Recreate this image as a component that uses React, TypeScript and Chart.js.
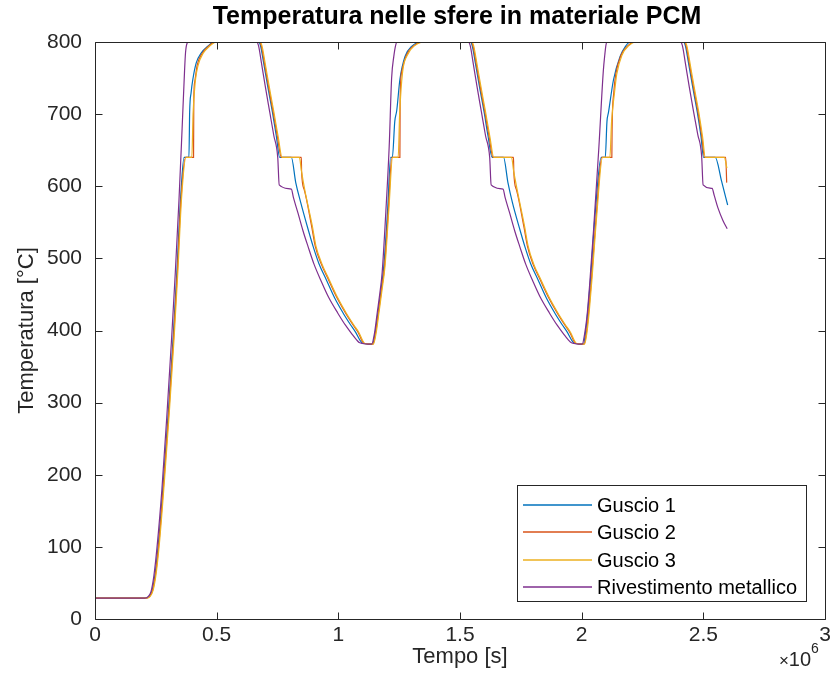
import React, { useEffect, useRef } from "react";
import { Chart, registerables } from "chart.js";
Chart.register(...registerables);

// Time in units of 10^6 s, temperature in °C
const tempoGuscio1 = [0, 0.207, 0.222, 0.235, 0.248, 0.262, 0.282, 0.302, 0.322, 0.337, 0.352, 0.366, 0.386, 0.389, 0.395, 0.402, 0.416, 0.437, 0.463, 0.49, 0.672, 0.68, 0.693, 0.71, 0.729, 0.745, 0.759, 0.807, 0.825, 0.845, 0.876, 0.896, 0.92, 0.951, 0.985, 1.02, 1.05, 1.072, 1.09, 1.101, 1.14, 1.152, 1.163, 1.175, 1.187, 1.203, 1.215, 1.222, 1.232, 1.24, 1.253, 1.274, 1.301, 1.348, 1.542, 1.55, 1.563, 1.58, 1.599, 1.615, 1.632, 1.679, 1.697, 1.715, 1.746, 1.766, 1.79, 1.821, 1.855, 1.89, 1.92, 1.942, 1.96, 1.971, 2.007, 2.016, 2.026, 2.036, 2.055, 2.08, 2.097, 2.104, 2.11, 2.131, 2.158, 2.18, 2.2, 2.418, 2.426, 2.439, 2.456, 2.475, 2.49, 2.501, 2.549, 2.575, 2.6];
const tempGuscio1 = [29, 29, 31, 40, 65, 110, 195, 290, 395, 485, 585, 640, 640, 703, 730, 748, 771, 785, 794, 800, 800, 795, 771, 738, 703, 670, 640, 640, 605, 578, 540, 517, 493, 470, 445, 424, 408, 397, 386, 382, 381, 398, 425, 455, 490, 570, 640, 640, 690, 705, 748, 780, 794, 800, 800, 795, 771, 738, 703, 670, 640, 640, 605, 578, 540, 517, 493, 470, 445, 424, 408, 397, 386, 382, 381, 398, 430, 470, 560, 640, 640, 690, 702, 748, 780, 794, 800, 800, 795, 771, 738, 703, 670, 640, 640, 607, 574];

const tempoGuscio2 = [0, 0.209, 0.224, 0.237, 0.25, 0.264, 0.284, 0.304, 0.324, 0.339, 0.354, 0.372, 0.405, 0.406, 0.41, 0.42, 0.44, 0.466, 0.495, 0.675, 0.683, 0.696, 0.713, 0.732, 0.75, 0.766, 0.848, 0.849, 0.86, 0.89, 0.905, 0.93, 0.96, 0.995, 1.03, 1.06, 1.082, 1.097, 1.106, 1.142, 1.154, 1.165, 1.177, 1.19, 1.206, 1.22, 1.253, 1.254, 1.26, 1.28, 1.31, 1.355, 1.545, 1.553, 1.566, 1.583, 1.602, 1.62, 1.636, 1.72, 1.721, 1.732, 1.762, 1.777, 1.8, 1.83, 1.865, 1.9, 1.93, 1.952, 1.967, 1.976, 2.01, 2.02, 2.03, 2.04, 2.06, 2.083, 2.124, 2.125, 2.132, 2.14, 2.162, 2.19, 2.22, 2.421, 2.429, 2.442, 2.459, 2.478, 2.494, 2.505, 2.592, 2.596];
const tempGuscio2 = [29, 29, 31, 40, 65, 110, 195, 290, 395, 485, 585, 640, 640, 720, 745, 768, 784, 794, 800, 800, 795, 771, 738, 703, 668, 640, 640, 620, 595, 545, 517, 492, 470, 445, 424, 408, 397, 386, 382, 381, 398, 425, 455, 490, 570, 640, 640, 720, 758, 782, 795, 800, 800, 795, 771, 738, 703, 668, 640, 640, 620, 595, 545, 517, 492, 470, 445, 424, 408, 397, 386, 382, 381, 398, 430, 470, 560, 640, 640, 678, 730, 755, 782, 795, 800, 800, 795, 771, 738, 703, 668, 640, 640, 605];

const tempoGuscio3 = [0, 0.21, 0.226, 0.239, 0.252, 0.266, 0.286, 0.306, 0.326, 0.341, 0.356, 0.374, 0.398, 0.403, 0.412, 0.424, 0.444, 0.47, 0.5, 0.677, 0.686, 0.699, 0.716, 0.735, 0.753, 0.769, 0.84, 0.848, 0.862, 0.893, 0.908, 0.933, 0.963, 0.998, 1.033, 1.063, 1.085, 1.1, 1.109, 1.144, 1.156, 1.167, 1.179, 1.192, 1.208, 1.223, 1.246, 1.252, 1.264, 1.284, 1.314, 1.36, 1.547, 1.556, 1.569, 1.586, 1.605, 1.623, 1.639, 1.712, 1.72, 1.735, 1.765, 1.78, 1.803, 1.833, 1.868, 1.903, 1.933, 1.955, 1.97, 1.979, 2.012, 2.022, 2.032, 2.042, 2.062, 2.086, 2.116, 2.123, 2.135, 2.144, 2.166, 2.194, 2.225, 2.423, 2.432, 2.445, 2.462, 2.481, 2.497, 2.508, 2.586, 2.597];
const tempGuscio3 = [29, 29, 31, 40, 65, 110, 195, 290, 395, 485, 585, 640, 640, 700, 745, 768, 784, 794, 800, 800, 795, 771, 738, 703, 668, 640, 640, 622, 595, 545, 517, 492, 470, 445, 424, 408, 397, 386, 382, 381, 398, 425, 455, 490, 570, 640, 640, 700, 758, 782, 795, 800, 800, 795, 771, 738, 703, 668, 640, 640, 622, 595, 545, 517, 492, 470, 445, 424, 408, 397, 386, 382, 381, 398, 430, 470, 560, 640, 640, 690, 730, 755, 782, 795, 800, 800, 795, 771, 738, 703, 668, 640, 640, 625];

const tempoMetallico = [0, 0.205, 0.218, 0.23, 0.242, 0.255, 0.275, 0.295, 0.315, 0.33, 0.345, 0.358, 0.368, 0.372, 0.378, 0.385, 0.663, 0.672, 0.684, 0.7, 0.718, 0.735, 0.751, 0.757, 0.807, 0.815, 0.834, 0.855, 0.875, 0.9, 0.93, 0.96, 0.998, 1.03, 1.054, 1.075, 1.088, 1.137, 1.148, 1.16, 1.17, 1.18, 1.195, 1.209, 1.219, 1.228, 1.236, 1.242, 1.533, 1.542, 1.554, 1.57, 1.588, 1.605, 1.622, 1.628, 1.677, 1.685, 1.704, 1.725, 1.745, 1.77, 1.8, 1.83, 1.868, 1.9, 1.924, 1.945, 1.958, 2.002, 2.012, 2.022, 2.032, 2.049, 2.07, 2.089, 2.095, 2.1, 2.105, 2.405, 2.414, 2.426, 2.442, 2.46, 2.477, 2.493, 2.499, 2.536, 2.545, 2.56, 2.58, 2.598];
const tempMetallico = [29, 29, 31, 38, 60, 100, 180, 280, 390, 480, 580, 680, 760, 785, 798, 800, 800, 795, 771, 738, 703, 670, 640, 602, 596, 585, 563, 538, 517, 492, 468, 446, 424, 407, 396, 387, 383, 381, 395, 425, 450, 480, 563, 655, 750, 780, 796, 800, 800, 795, 771, 738, 703, 670, 640, 602, 596, 585, 563, 538, 517, 492, 468, 446, 424, 407, 396, 387, 383, 381, 395, 420, 460, 540, 650, 760, 782, 796, 800, 800, 795, 771, 738, 703, 672, 642, 602, 597, 587, 570, 553, 541];

const seriesLabels = ["Guscio 1", "Guscio 2", "Guscio 3", "Rivestimento metallico"];
const seriesColors = ["#0072BD", "#D95319", "#EDB120", "#7E2F8E"];
const xTickValues = [0, 0.5, 1, 1.5, 2, 2.5, 3];
const yTickValues = [0, 100, 200, 300, 400, 500, 600, 700, 800];

const chartTitle = "Temperatura nelle sfere in materiale PCM";
const xTitle = "Tempo [s]";
const yTitle = "Temperatura [°C]";

const FONT = "'Liberation Sans', Arial, sans-serif";

function toPoints(t: number[], v: number[]) {
  return t.map((x, i) => ({ x, y: v[i] }));
}

const matlabPlugin = {
  id: "matlabDecor",
  afterDraw(chart: any) {
    const { ctx, chartArea: a, scales } = chart;
    const L = Math.round(a.left) + 0.5;
    const R = Math.round(a.right) + 0.5;
    const T = Math.round(a.top) + 0.5;
    const B = Math.round(a.bottom) + 0.5;
    ctx.save();
    ctx.strokeStyle = "#262626";
    ctx.lineWidth = 1;
    ctx.beginPath();
    ctx.rect(L, T, R - L, B - T);
    ctx.stroke();
    const tl = 7;
    ctx.beginPath();
    for (const v of xTickValues) {
      const px = Math.round(scales.x.getPixelForValue(v)) + 0.5;
      ctx.moveTo(px, B);
      ctx.lineTo(px, B - tl);
      ctx.moveTo(px, T);
      ctx.lineTo(px, T + tl);
    }
    for (const v of yTickValues) {
      const py = Math.round(scales.y.getPixelForValue(v)) + 0.5;
      ctx.moveTo(L, py);
      ctx.lineTo(L + tl, py);
      ctx.moveTo(R, py);
      ctx.lineTo(R - tl, py);
    }
    ctx.stroke();

    // title
    ctx.fillStyle = "#000000";
    ctx.textAlign = "center";
    ctx.textBaseline = "middle";
    ctx.font = `bold 25px ${FONT}`;
    ctx.fillText(chartTitle, 457, 17);

    // axis titles
    ctx.fillStyle = "#262626";
    ctx.font = `22px ${FONT}`;
    ctx.fillText(xTitle, (a.left + a.right) / 2, 657);
    ctx.save();
    ctx.translate(27, (a.top + a.bottom) / 2);
    ctx.rotate(-Math.PI / 2);
    ctx.fillText(yTitle, 0, 0);
    ctx.restore();

    // exponent
    ctx.textAlign = "right";
    ctx.font = `20px ${FONT}`;
    ctx.fillText("10", 811, 660);
    ctx.font = `17px ${FONT}`;
    ctx.fillText("×", 789, 661);
    ctx.textAlign = "left";
    ctx.font = `14px ${FONT}`;
    ctx.fillText("6", 811, 649);

    // legend
    const lx = 517.5, ly = 485.5, lw = 289, lh = 116;
    ctx.fillStyle = "#ffffff";
    ctx.fillRect(lx, ly, lw, lh);
    ctx.strokeStyle = "#262626";
    ctx.lineWidth = 1;
    ctx.strokeRect(lx, ly, lw, lh);
    const rowY = [505, 532, 560, 587];
    ctx.font = `20px ${FONT}`;
    ctx.textAlign = "left";
    ctx.textBaseline = "middle";
    chart.data.datasets.forEach((ds: any, i: number) => {
      const y = rowY[i];
      ctx.strokeStyle = ds.borderColor;
      ctx.lineWidth = 1.3;
      ctx.beginPath();
      ctx.moveTo(523, y);
      ctx.lineTo(592, y);
      ctx.stroke();
      ctx.fillStyle = "#000000";
      ctx.fillText(ds.label, 597, y + 1);
    });
    ctx.restore();
  },
};

export default function App() {
  const ref = useRef<HTMLCanvasElement | null>(null);
  useEffect(() => {
    document.body.style.margin = "0";
    const canvas = ref.current;
    if (!canvas) return;
    const series = [
      toPoints(tempoGuscio1, tempGuscio1),
      toPoints(tempoGuscio2, tempGuscio2),
      toPoints(tempoGuscio3, tempGuscio3),
      toPoints(tempoMetallico, tempMetallico),
    ];
    const chart = new Chart(canvas, {
      type: "line",
      data: {
        datasets: series.map((d, i) => ({
          label: seriesLabels[i],
          data: d,
          borderColor: seriesColors[i],
          backgroundColor: seriesColors[i],
          borderWidth: 1.2,
          pointRadius: 0,
          fill: false,
          cubicInterpolationMode: "monotone" as const,
          order: 4 - i,
        })),
      },
      options: {
        responsive: false,
        animation: false,
        layout: { padding: { top: 42, right: 5, bottom: 0, left: 0 } },
        plugins: {
          legend: { display: false },
          title: { display: false },
          tooltip: { enabled: false },
        },
        scales: {
          x: {
            type: "linear",
            min: 0,
            max: 3,
            afterBuildTicks: (s: any) => {
              s.ticks = xTickValues.map((v) => ({ value: v }));
            },
            afterFit: (s: any) => {
              s.height = 75;
              s.paddingLeft = 0;
              s.paddingRight = 0;
            },
            grid: { display: false, drawTicks: false },
            border: { display: false },
            ticks: {
              autoSkip: false,
              maxRotation: 0,
              padding: 4,
              color: "#262626",
              font: { family: FONT, size: 21 },
              callback: (v: any) => String(v),
            },
          },
          y: {
            type: "linear",
            min: 0,
            max: 800,
            afterBuildTicks: (s: any) => {
              s.ticks = yTickValues.map((v) => ({ value: v }));
            },
            afterFit: (s: any) => {
              s.width = 95;
              s.paddingTop = 0;
              s.paddingBottom = 0;
            },
            grid: { display: false, drawTicks: false },
            border: { display: false },
            ticks: {
              autoSkip: false,
              padding: 13,
              color: "#262626",
              font: { family: FONT, size: 21 },
              callback: (v: any) => String(v),
            },
          },
        },
      },
      plugins: [matlabPlugin],
    });
    return () => chart.destroy();
  }, []);
  return (
    <div style={{ width: 830, height: 694, background: "#ffffff" }}>
      <canvas ref={ref} width={830} height={694} style={{ display: "block" }} />
    </div>
  );
}
